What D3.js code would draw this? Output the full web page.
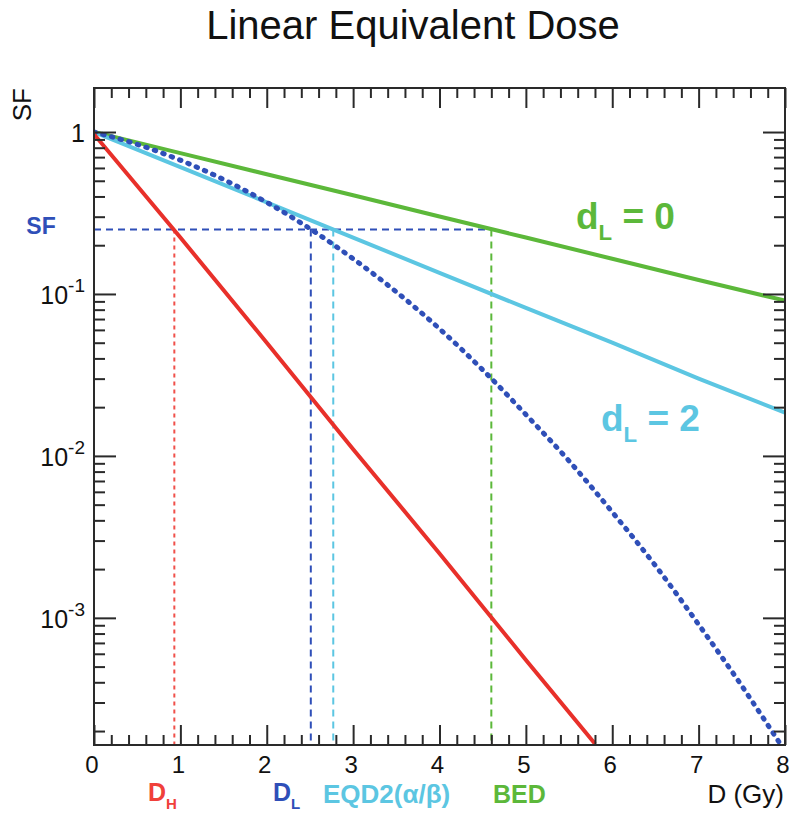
<!DOCTYPE html>
<html>
<head>
<meta charset="utf-8">
<script src="https://cdn.jsdelivr.net/npm/d3@7"></script>
<style>
  body { margin: 0; background: #fff; }
  text { font-family: "Liberation Sans", Arial, Helvetica, sans-serif; }
</style>
</head>
<body>
<div id="graphic"></div>
<script>
// values
var doses = [0, 1, 2, 3, 4, 5, 6, 7, 8]
var sfBED = [1, 0.741, 0.549, 0.407, 0.301, 0.223, 0.165, 0.122, 0.091]   // dL = 0
var sfEQD2 = [1, 0.607, 0.368, 0.223, 0.135, 0.082, 0.050, 0.030, 0.0185] // dL = 2
var redDoses = [0, 1, 2, 3, 4, 5, 5.8]
var sfHigh = [0.97, 0.223, 0.050, 0.011, 0.0025, 0.00055, 0.000167]
var lqDoses = [0, 0.5, 1, 1.5, 2, 2.5, 3, 3.5, 4, 4.5, 5, 5.5, 6, 6.5, 7, 7.5, 8]
var sfLQ = [1, 0.839, 0.670, 0.509, 0.368, 0.253, 0.165, 0.103, 0.061, 0.034,
            0.018, 0.0093, 0.0045, 0.0021, 0.00091, 0.00038, 0.00015]
var sfLevel = 0.25
var markers = [
  {name: 'DH', dose: 0.93, color: '#f0504a', dash: '4,4'},
  {name: 'DL', dose: 2.51, color: '#2f4fb8', dash: '7,5'},
  {name: 'EQD2', dose: 2.77, color: '#5cc6e2', dash: '7,5'},
  {name: 'BED', dose: 4.6, color: '#5cb83a', dash: '7,5'}
]
var xTicks = [0, 1, 2, 3, 4, 5, 6, 7, 8]
var yMajor = [1, 0.1, 0.01, 0.001]
var yLabels = ['1', '10|-1', '10|-2', '10|-3']

var width = 800
var height = 823
var m = {left: 94, right: 785, top: 88, bottom: 745}

var green = '#5cb83a', cyan = '#5cc6e2', red = '#e8302a', blue = '#2f4fb8'
var axisColor = '#2a2a2a'

var svg = d3.select('#graphic').append('svg')
  .attr('width', width).attr('height', height)

var x = d3.scaleLinear().domain([0, 8]).range([m.left, m.right])
var y = d3.scaleLog().domain([1.64e-4, 1.87]).range([m.bottom, m.top])

svg.append('defs').append('clipPath').attr('id', 'clip')
  .append('rect')
  .attr('x', m.left).attr('y', m.top)
  .attr('width', m.right - m.left).attr('height', m.bottom - m.top)

// title
svg.append('text')
  .attr('x', 413).attr('y', 39)
  .attr('text-anchor', 'middle')
  .attr('font-size', 40)
  .attr('fill', '#111')
  .text('Linear Equivalent Dose')

var plot = svg.append('g').attr('clip-path', 'url(#clip)')

// reference dashed lines
plot.append('line')
  .attr('x1', x(0)).attr('x2', x(markers[3].dose))
  .attr('y1', y(sfLevel)).attr('y2', y(sfLevel))
  .attr('stroke', blue).attr('stroke-width', 2).attr('stroke-dasharray', '7,5')

plot.selectAll('.vmark').data(markers).enter().append('line')
  .attr('class', 'vmark')
  .attr('x1', d => x(d.dose)).attr('x2', d => x(d.dose))
  .attr('y1', y(sfLevel)).attr('y2', m.bottom)
  .attr('stroke', d => d.color).attr('stroke-width', 2)
  .attr('stroke-dasharray', d => d.dash)

// curves
var line = d3.line().x(d => x(d[0])).y(d => y(d[1]))

plot.append('path')
  .attr('d', line(doses.map((d, i) => [d, sfBED[i]])))
  .attr('fill', 'none').attr('stroke', green).attr('stroke-width', 4)

plot.append('path')
  .attr('d', line(doses.map((d, i) => [d, sfEQD2[i]])))
  .attr('fill', 'none').attr('stroke', cyan).attr('stroke-width', 4)

plot.append('path')
  .attr('d', d3.line().curve(d3.curveMonotoneX).x(d => x(d[0])).y(d => y(d[1]))(lqDoses.map((d, i) => [d, sfLQ[i]])))
  .attr('fill', 'none').attr('stroke', blue).attr('stroke-width', 5)
  .attr('stroke-linecap', 'round')
  .attr('stroke-dasharray', '1.5,7.5')

plot.append('path')
  .attr('d', line(redDoses.map((d, i) => [d, sfHigh[i]])))
  .attr('fill', 'none').attr('stroke', red).attr('stroke-width', 4)

// axes: frame
svg.append('rect')
  .attr('x', m.left).attr('y', m.top)
  .attr('width', m.right - m.left).attr('height', m.bottom - m.top)
  .attr('fill', 'none').attr('stroke', axisColor).attr('stroke-width', 2)

var xMinor = d3.range(0, 8.001, 0.2).filter(v => Math.abs(v - Math.round(v)) > 1e-6)
var yAll = y.ticks().filter(v => yMajor.indexOf(v) < 0)

function drawAxis(gen, transform) {
  var g = svg.append('g').attr('transform', transform).call(gen)
  g.select('.domain').remove()
  g.selectAll('line').attr('stroke', axisColor).attr('stroke-width', 2)
  g.selectAll('text').remove()
  return g
}

// bottom + top
drawAxis(d3.axisBottom(x).tickValues(xTicks).tickSize(-20), `translate(0,${m.bottom})`)
drawAxis(d3.axisBottom(x).tickValues(xMinor).tickSize(-10), `translate(0,${m.bottom})`)
drawAxis(d3.axisTop(x).tickValues(xTicks).tickSize(-20), `translate(0,${m.top})`)
drawAxis(d3.axisTop(x).tickValues(xMinor).tickSize(-10), `translate(0,${m.top})`)
// left + right
drawAxis(d3.axisLeft(y).tickValues(yMajor).tickSize(-22), `translate(${m.left},0)`)
drawAxis(d3.axisLeft(y).tickValues(yAll).tickSize(-11), `translate(${m.left},0)`)
drawAxis(d3.axisRight(y).tickValues(yMajor).tickSize(-22), `translate(${m.right},0)`)
drawAxis(d3.axisRight(y).tickValues(yAll).tickSize(-11), `translate(${m.right},0)`)

// x tick labels
svg.selectAll('.xlab').data(xTicks).enter().append('text')
  .attr('x', d => x(d) - 2).attr('y', 773)
  .attr('text-anchor', 'middle').attr('font-size', 24).attr('fill', '#111')
  .text(d => d)

// y tick labels
yMajor.forEach((v, i) => {
  var parts = yLabels[i].split('|')
  var t = svg.append('text')
    .attr('x', 85).attr('y', y(v) + 10)
    .attr('text-anchor', 'end').attr('font-size', 25).attr('fill', '#111')
  t.append('tspan').text(parts[0])
  if (parts[1]) {
    t.append('tspan').attr('font-size', 19).attr('dy', -12).text(parts[1])
  }
})

// y axis title
svg.append('text')
  .attr('transform', 'translate(31,88) rotate(-90)')
  .attr('text-anchor', 'end').attr('font-size', 26).attr('fill', '#111')
  .text('SF')

// blue SF label
svg.append('text')
  .attr('x', 41).attr('y', y(sfLevel) + 4)
  .attr('text-anchor', 'middle').attr('font-size', 23).attr('font-weight', 'bold')
  .attr('fill', blue)
  .text('SF')

// curve labels
function subLabel(xp, yp, main, sub, rest, color, size) {
  var t = svg.append('text').attr('x', xp).attr('y', yp)
    .attr('font-size', size).attr('font-weight', 'bold').attr('fill', color)
  t.append('tspan').text(main)
  t.append('tspan').attr('font-size', size * 0.6).attr('dy', size * 0.3).text(sub)
  if (rest) t.append('tspan').attr('dy', -size * 0.3).text(rest)
  return t
}
subLabel(576, 229, 'd', 'L', ' = 0', green, 37)
subLabel(601, 431, 'd', 'L', ' = 2', cyan, 37)

// bottom marker labels
subLabel(148, 801, 'D', 'H', null, '#f0403a', 25)
subLabel(273, 801, 'D', 'L', null, blue, 25)
svg.append('text').attr('x', 323).attr('y', 803)
  .attr('font-size', 26).attr('font-weight', 'bold').attr('fill', cyan)
  .text('EQD2(α/β)')
svg.append('text').attr('x', 493).attr('y', 803)
  .attr('font-size', 25).attr('font-weight', 'bold').attr('fill', green)
  .text('BED')
svg.append('text').attr('x', 784).attr('y', 803)
  .attr('text-anchor', 'end').attr('font-size', 26).attr('fill', '#111')
  .text('D (Gy)')
</script>
</body>
</html>
